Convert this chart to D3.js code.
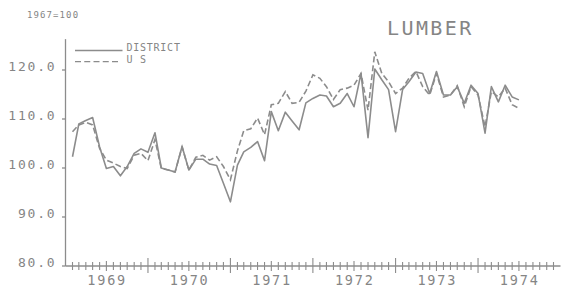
<!DOCTYPE html>
<html>
<head>
<meta charset="utf-8">
<script src="https://cdn.jsdelivr.net/npm/d3@7"></script>
<style>
  body { margin: 0; background: #fff; }
  svg { display: block; }
</style>
</head>
<body>
<svg id="chart"></svg>
<script>
// monthly index values, Feb 1969 .. Jul 1974 (1967=100)
const startMonth = [1969, 1];
const district = [102.3, 109.0, 109.7, 110.3, 104.3, 99.9, 100.3, 98.4, 100.3, 103.0,
    103.9, 103.2, 107.2, 100.0, 99.6, 99.2, 104.4, 99.6, 101.8, 101.8,
    100.8, 100.5, 96.9, 93.1, 100.6, 103.3, 104.2, 105.4, 101.5, 111.5,
    107.6, 111.4, 109.6, 107.8, 113.3, 114.2, 114.9, 114.7, 112.5, 113.2,
    115.2, 112.5, 119.3, 106.2, 120.2, 118.0, 116.0, 107.4, 116.0, 117.6,
    119.6, 119.3, 115.2, 119.7, 114.9, 114.9, 116.6, 113.2, 116.9, 115.2,
    107.1, 116.6, 113.5, 116.9, 114.5, 113.9];
const us = [107.4, 108.8, 109.3, 108.8, 104.0, 101.6, 101.0, 100.3, 99.9, 102.6,
    103.0, 101.5, 105.8, 99.9, 99.6, 99.2, 104.3, 99.6, 102.2, 102.6,
    101.6, 102.3, 100.3, 97.6, 103.5, 107.6, 108.0, 110.2, 106.8, 112.9,
    113.2, 115.6, 113.2, 113.4, 115.7, 119.0, 118.3, 116.6, 114.0, 116.0,
    116.3, 116.9, 119.3, 111.8, 123.7, 119.3, 117.6, 115.2, 116.3, 118.3,
    119.7, 116.6, 114.9, 119.3, 114.5, 114.9, 116.8, 112.5, 116.6, 114.9,
    108.4, 115.6, 114.5, 116.3, 112.9, 112.2];
const yTicks = [80, 90, 100, 110, 120];
const years = [1969, 1970, 1971, 1972, 1973, 1974];
const seriesNames = ["DISTRICT", "U S"];

const width = 565, height = 288;
const grey = "#8c8c8c", textGrey = "#858585";
const font = "'DejaVu Sans Mono', monospace";

const svg = d3.select("#chart")
    .attr("width", width)
    .attr("height", height)
    .attr("font-family", font);

const x = d3.scaleTime()
    .domain([new Date(1969, 0, 1), new Date(1975, 0, 1)])
    .range([65.5, 560.5]);
const y = d3.scaleLinear()
    .domain([80, 120])
    .range([266, 70]);

const dates = district.map((d, i) => new Date(startMonth[0], startMonth[1] + i, 1));

// axes
svg.append("line")
    .attr("x1", x.range()[0]).attr("x2", x.range()[0])
    .attr("y1", y(80)).attr("y2", y(126.3))
    .attr("stroke", grey).attr("stroke-width", 1.3);
svg.append("line")
    .attr("x1", x.range()[0]).attr("x2", x.range()[1])
    .attr("y1", y(80)).attr("y2", y(80))
    .attr("stroke", grey).attr("stroke-width", 1.3);

svg.append("g")
    .selectAll("line")
    .data(yTicks)
    .join("line")
      .attr("x1", x.range()[0] - 3.5).attr("x2", x.range()[0])
      .attr("y1", d => y(d)).attr("y2", d => y(d))
      .attr("stroke", grey).attr("stroke-width", 1.3);

svg.append("g")
    .selectAll("text")
    .data(yTicks)
    .join("text")
      .attr("x", 56.5)
      .attr("y", d => y(d) + 1.2)
      .attr("text-anchor", "end")
      .attr("font-size", 13)
      .attr("letter-spacing", 1.8)
      .attr("fill", textGrey)
      .text(d => d.toFixed(1));

// monthly ticks, taller at mid-year and year boundaries
const months = d3.timeMonth.range(new Date(1969, 1, 1), new Date(1975, 0, 1));
svg.append("g")
    .selectAll("line")
    .data(months)
    .join("line")
      .attr("x1", d => x(d)).attr("x2", d => x(d))
      .attr("y1", d => y(80) - (d.getMonth() == 0 ? 8 : d.getMonth() == 6 ? 5 : 4))
      .attr("y2", d => y(80) + (d.getMonth() == 0 ? 7 : d.getMonth() == 6 ? 5 : 4))
      .attr("stroke", grey).attr("stroke-width", 1.1);

svg.append("g")
    .selectAll("text")
    .data(years)
    .join("text")
      .attr("x", d => x(new Date(d, 6, 1)) + 0.8)
      .attr("y", 285)
      .attr("text-anchor", "middle")
      .attr("font-size", 13.5)
      .attr("letter-spacing", 1.8)
      .attr("fill", textGrey)
      .text(d => d);

// series
const line = d3.line()
    .x((d, i) => x(dates[i]))
    .y(d => y(d));

svg.append("path")
    .attr("d", line(us))
    .attr("fill", "none")
    .attr("stroke", grey)
    .attr("stroke-width", 1.6)
    .attr("stroke-dasharray", "6,3");

svg.append("path")
    .attr("d", line(district))
    .attr("fill", "none")
    .attr("stroke", grey)
    .attr("stroke-width", 1.6)
    .attr("stroke-linejoin", "round");

// legend
const legend = svg.append("g");
legend.append("line")
    .attr("x1", 75).attr("x2", 122.5).attr("y1", 50.5).attr("y2", 50.5)
    .attr("stroke", grey).attr("stroke-width", 1.3);
legend.append("line")
    .attr("x1", 75).attr("x2", 118).attr("y1", 61.7).attr("y2", 61.7)
    .attr("stroke", grey).attr("stroke-width", 1.3)
    .attr("stroke-dasharray", "6,3.25");
legend.selectAll("text")
    .data(seriesNames)
    .join("text")
      .attr("x", 126.5)
      .attr("y", (d, i) => 51 + i * 11.8)
      .attr("font-size", 10)
      .attr("letter-spacing", 0.75)
      .attr("fill", textGrey)
      .text(d => d);

// titles
svg.append("text")
    .attr("x", 27).attr("y", 18.3)
    .attr("font-size", 9)
    .attr("letter-spacing", 1.1)
    .attr("fill", textGrey)
    .text("1967=100");

svg.append("text")
    .attr("x", 387).attr("y", 35)
    .attr("font-size", 20)
    .attr("letter-spacing", 2.4)
    .attr("fill", textGrey)
    .text("LUMBER");
</script>
</body>
</html>
